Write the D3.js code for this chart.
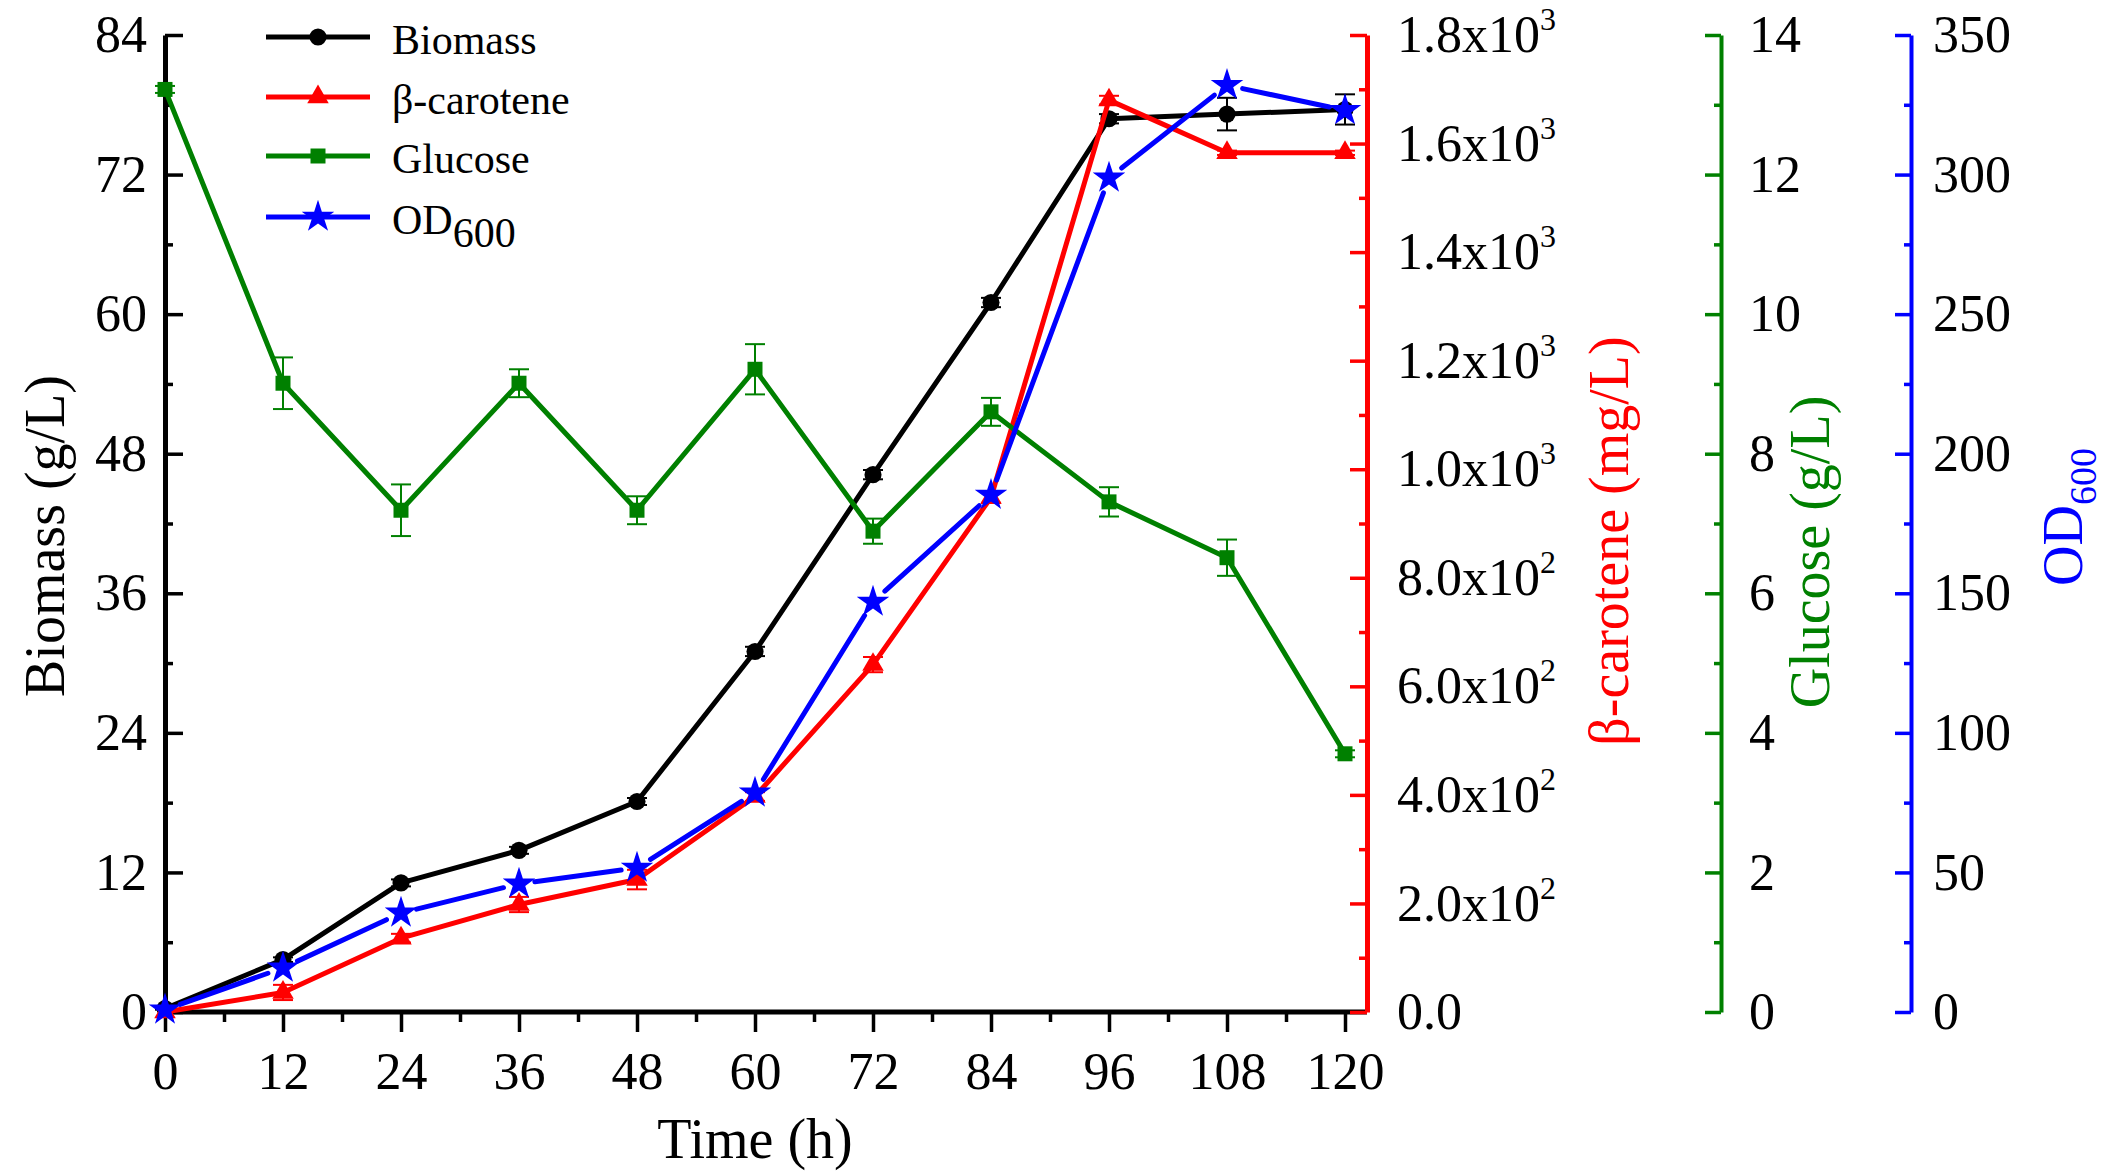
<!DOCTYPE html>
<html>
<head>
<meta charset="utf-8">
<script src="https://cdn.jsdelivr.net/npm/d3@7"></script>
<style>
  body { margin: 0; background: #fff; }
  svg { display: block; }
  text { font-family: "Liberation Serif", "Times New Roman", serif; }
</style>
</head>
<body>
<svg id="chart"></svg>
<script>
// data
const times = [0, 12, 24, 36, 48, 60, 72, 84, 96, 108, 120];
const biomass = [0.3, 4.5, 11.1, 13.9, 18.1, 31.0, 46.2, 61.0, 76.8, 77.2, 77.6];
const biomassErr = [0.1, 0.2, 0.3, 0.3, 0.3, 0.4, 0.4, 0.4, 0.4, 1.4, 1.3];
const carotene = [0, 36, 136, 198, 244, 397, 640, 948, 1680, 1583, 1583];
const caroteneErr = [0, 14, 8, 14, 18, 8, 14, 10, 8, 4, 4];
const glucose = [13.22, 9.01, 7.19, 9.01, 7.19, 9.21, 6.89, 8.60, 7.31, 6.51, 3.70];
const glucoseErr = [0.05, 0.37, 0.37, 0.2, 0.2, 0.36, 0.18, 0.2, 0.21, 0.26, 0.05];
const od600 = [0.8, 15.8, 35.5, 45.9, 51.6, 78.5, 146.9, 185.2, 298.8, 332, 323];

// tick values / labels
const timeTicks = d3.range(0, 121, 12);
const timeMinor = d3.range(6, 120, 12);
const biomassTicks = d3.range(0, 85, 12);
const biomassMinor = d3.range(6, 84, 12);
const carTicks = d3.range(0, 1801, 200);
const carMinor = d3.range(100, 1800, 200);
const carTickMant = ["0.0", "2.0x10", "4.0x10", "6.0x10", "8.0x10", "1.0x10", "1.2x10", "1.4x10", "1.6x10", "1.8x10"];
const carTickExp = ["", "2", "2", "2", "2", "3", "3", "3", "3", "3"];
const gluTicks = d3.range(0, 15, 2);
const gluMinor = d3.range(1, 14, 2);
const odTicks = d3.range(0, 351, 50);
const odMinor = d3.range(25, 350, 50);

const legendNames = ["Biomass", "β-carotene", "Glucose", "OD"];

const width = 2101, height = 1176;
const RED = "#ff0000", GREEN = "#008000", BLUE = "#0000ff", BLACK = "#000000";

const svg = d3.select("#chart").attr("width", width).attr("height", height);

// scales
const x = d3.scaleLinear().domain([0, 120]).range([165, 1345]);
const yBio = d3.scaleLinear().domain([0, 84]).range([1012, 35]);
const yCar = d3.scaleLinear().domain([0, 1800]).range([1012, 35]);
const yGlu = d3.scaleLinear().domain([0, 14]).range([1012, 35]);
const yOD = d3.scaleLinear().domain([0, 350]).range([1012, 35]);

const redX = 1367, greenX = 1721, blueX = 1911;

function styleAxis(g, color, lw, fs) {
    g.selectAll("path.domain").attr("stroke", color).attr("stroke-width", lw);
    g.selectAll(".tick line").attr("stroke", color).attr("stroke-width", 3.5);
    g.selectAll(".tick text").attr("fill", "#000").attr("font-size", fs)
        .attr("font-family", "Liberation Serif");
}

//left axis (biomass)
const gLeft = svg.append("g").attr("transform", `translate(${x(0)},0)`);
gLeft.call(d3.axisLeft(yBio).tickValues(biomassTicks).tickSize(-18).tickSizeOuter(0).tickPadding(18));
gLeft.append("g").call(d3.axisLeft(yBio).tickValues(biomassMinor).tickSize(-8).tickFormat(""))
    .select("path.domain").remove();
styleAxis(gLeft, BLACK, 5, 52);

//bottom axis (time)
const gBottom = svg.append("g").attr("transform", `translate(0,${yBio(0)})`);
gBottom.call(d3.axisBottom(x).tickValues(timeTicks).tickSize(20).tickSizeOuter(0).tickPadding(20));
gBottom.append("g").call(d3.axisBottom(x).tickValues(timeMinor).tickSize(10).tickFormat(""))
    .select("path.domain").remove();
gBottom.select("path.domain").remove();
gBottom.append("line").attr("x1", x(0) - 2.5).attr("x2", redX).attr("y1", 0).attr("y2", 0)
    .attr("stroke", BLACK).attr("stroke-width", 5);
styleAxis(gBottom, BLACK, 5, 52);

//red axis (beta-carotene)
const gRed = svg.append("g").attr("transform", `translate(${redX},0)`);
gRed.call(d3.axisRight(yCar).tickValues(carTicks).tickSize(-17).tickSizeOuter(0).tickPadding(30));
gRed.append("g").call(d3.axisRight(yCar).tickValues(carMinor).tickSize(-8).tickFormat(""))
    .select("path.domain").remove();
styleAxis(gRed, RED, 5, 52);
gRed.selectAll(".tick text").each(function (d) {
    const i = carTicks.indexOf(d);
    if (i < 0) return;
    const t = d3.select(this).text(null);
    t.append("tspan").text(carTickMant[i]);
    if (carTickExp[i]) {
        t.append("tspan").attr("dy", -22).attr("font-size", 32).text(carTickExp[i]);
    }
});

//green axis (glucose)
const gGreen = svg.append("g").attr("transform", `translate(${greenX},0)`);
gGreen.call(d3.axisRight(yGlu).tickValues(gluTicks).tickSize(-16).tickSizeOuter(0).tickPadding(28));
gGreen.append("g").call(d3.axisRight(yGlu).tickValues(gluMinor).tickSize(-7).tickFormat(""))
    .select("path.domain").remove();
styleAxis(gGreen, GREEN, 4, 52);

//blue axis (OD600)
const gBlue = svg.append("g").attr("transform", `translate(${blueX},0)`);
gBlue.call(d3.axisRight(yOD).tickValues(odTicks).tickSize(-16).tickSizeOuter(0).tickPadding(22));
gBlue.append("g").call(d3.axisRight(yOD).tickValues(odMinor).tickSize(-7).tickFormat(""))
    .select("path.domain").remove();
styleAxis(gBlue, BLUE, 4, 52);

//axis titles
svg.append("text").attr("transform", "translate(64,536) rotate(-90)")
    .attr("text-anchor", "middle").attr("font-size", 56).attr("fill", BLACK).text("Biomass (g/L)");
svg.append("text").attr("transform", "translate(1628,541) rotate(-90)")
    .attr("text-anchor", "middle").attr("font-size", 56).attr("fill", RED).text("β-carotene (mg/L)");
svg.append("text").attr("transform", "translate(1829,552) rotate(-90)")
    .attr("text-anchor", "middle").attr("font-size", 56).attr("fill", GREEN).text("Glucose (g/L)");
const odTitle = svg.append("text").attr("transform", "translate(2082,517) rotate(-90)")
    .attr("text-anchor", "middle").attr("font-size", 56).attr("fill", BLUE);
odTitle.append("tspan").text("OD");
odTitle.append("tspan").attr("font-size", 38).attr("dy", 14).text("600");
svg.append("text").attr("x", 755).attr("y", 1158).attr("text-anchor", "middle")
    .attr("font-size", 56).attr("fill", BLACK).text("Time (h)");

//series
const series = [
    { vals: biomass, err: biomassErr, y: yBio, color: BLACK, sym: d3.symbolCircle, size: 230, gap: 0 },
    { vals: carotene, err: caroteneErr, y: yCar, color: RED, sym: d3.symbolTriangle, size: 200, gap: 0 },
    { vals: glucose, err: glucoseErr, y: yGlu, color: GREEN, sym: d3.symbolSquare, size: 225, gap: 0 },
    { vals: od600, err: null, y: yOD, color: BLUE, sym: d3.symbolStar, size: 330, gap: 16 }
];

series.forEach(s => {
    const pts = times.map((t, i) => ({ px: x(t), py: s.y(s.vals[i]), v: s.vals[i], e: s.err ? s.err[i] : 0 }));
    const g = svg.append("g");

    // line segments (gaps at the markers like the original)
    g.selectAll("line.seg")
        .data(d3.pairs(pts))
        .enter()
        .append("line")
        .attr("class", "seg")
        .each(function ([a, b]) {
            const dx = b.px - a.px, dy = b.py - a.py;
            const len = Math.hypot(dx, dy);
            const k = Math.min(s.gap / len, 0.45);
            d3.select(this)
                .attr("x1", a.px + dx * k).attr("y1", a.py + dy * k)
                .attr("x2", b.px - dx * k).attr("y2", b.py - dy * k);
        })
        .attr("stroke", s.color)
        .attr("stroke-width", 5)
        .attr("stroke-linecap", "round");

    // error bars
    if (s.err) {
        const eb = g.selectAll("g.err").data(pts.filter(p => p.e > 0)).enter().append("g").attr("class", "err");
        eb.append("line")
            .attr("x1", d => d.px).attr("x2", d => d.px)
            .attr("y1", d => s.y(d.v + d.e)).attr("y2", d => s.y(d.v - d.e))
            .attr("stroke", s.color).attr("stroke-width", 2);
        [1, -1].forEach(sign => {
            eb.append("line")
                .attr("x1", d => d.px - 10).attr("x2", d => d.px + 10)
                .attr("y1", d => s.y(d.v + sign * d.e)).attr("y2", d => s.y(d.v + sign * d.e))
                .attr("stroke", s.color).attr("stroke-width", 2);
        });
    }

    // markers
    g.selectAll("path.mark")
        .data(pts)
        .enter()
        .append("path")
        .attr("class", "mark")
        .attr("transform", d => `translate(${d.px},${d.py})`)
        .attr("d", d3.symbol(s.sym, s.size))
        .attr("fill", s.color);
});

//legend
const legend = svg.append("g");
const rowY = [37, 97, 156, 217];
series.forEach((s, i) => {
    const row = legend.append("g").attr("transform", `translate(0,${rowY[i]})`);
    row.append("line").attr("x1", 266).attr("x2", 370).attr("y1", 0).attr("y2", 0)
        .attr("stroke", s.color).attr("stroke-width", 5);
    row.append("path").attr("transform", "translate(318,0)")
        .attr("d", d3.symbol(s.sym, s.size)).attr("fill", s.color);
    const t = row.append("text").attr("x", 392).attr("y", 17).attr("font-size", 42).attr("fill", BLACK);
    t.append("tspan").text(legendNames[i]);
    if (i === 3) t.append("tspan").attr("dy", 13).text("600");
});
</script>
</body>
</html>
